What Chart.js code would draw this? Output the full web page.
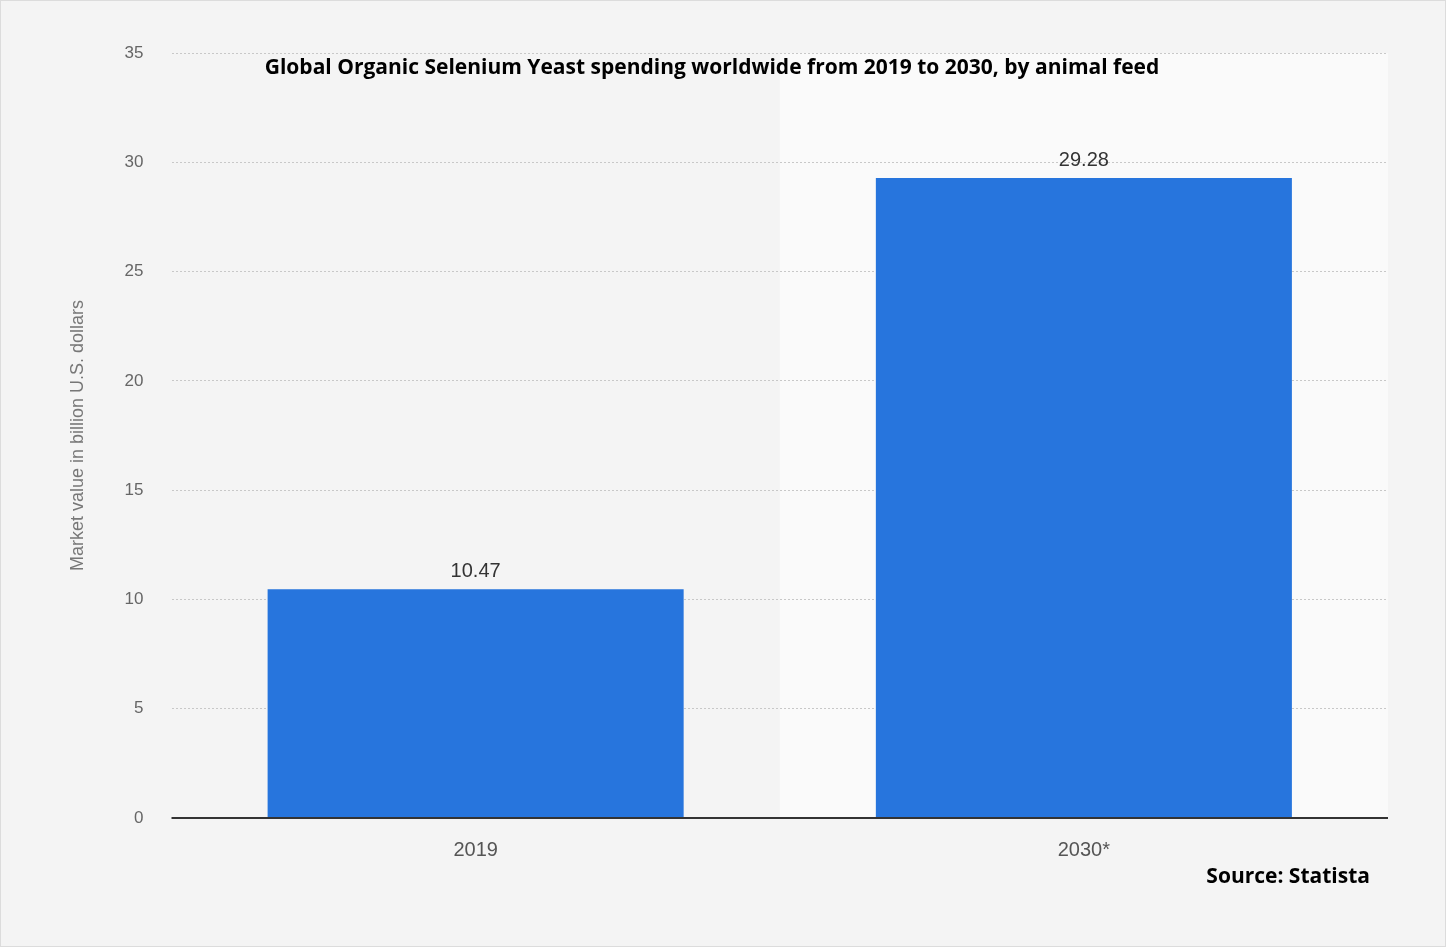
<!DOCTYPE html>
<html><head><meta charset="utf-8">
<script src="https://cdn.jsdelivr.net/npm/chart.js@4.4.1/dist/chart.umd.min.js"></script>
<style>html,body{margin:0;padding:0;background:#f4f4f4}#w{width:1446px;height:947px;box-sizing:border-box;border:1px solid #dcdcdc}</style>
</head><body><div id="w"><canvas id="c"></canvas></div>
<script>
const categories = ["2019", "2030*"];
const values = [10.47, 29.28];
const yTicks = [0, 5, 10, 15, 20, 25, 30, 35];
const titleText = "Global Organic Selenium Yeast spending worldwide from 2019 to 2030, by animal feed";
const sourceText = "Source: Statista";

const deco = {
  id: 'deco',
  beforeDraw(ch) {
    const {ctx, chartArea: a, scales: {x}} = ch;
    const mid = (x.getPixelForValue(0) + x.getPixelForValue(1)) / 2;
    ctx.save();
    ctx.fillStyle = '#f4f4f4'; ctx.fillRect(a.left, a.top, mid - a.left, a.bottom - a.top);
    ctx.fillStyle = '#fafafa'; ctx.fillRect(mid, a.top, a.right - mid, a.bottom - a.top);
    ctx.restore();
  },
  afterDraw(ch) {
    const {ctx, chartArea: a} = ch;
    ctx.save();
    ctx.fillStyle = '#000';
    ctx.font = 'bold 21px "Liberation Sans Narrow", "Open Sans", sans-serif';
    ctx.textAlign = 'center'; ctx.textBaseline = 'middle';
    ctx.fillText(titleText, 711, 67);
    ctx.textAlign = 'right';
    ctx.fillText(sourceText, 1369, 876);
    const meta = ch.getDatasetMeta(0);
    ctx.font = '20px "Liberation Sans", Arial, sans-serif';
    ctx.fillStyle = '#333'; ctx.textAlign = 'center'; ctx.textBaseline = 'bottom';
    meta.data.forEach((b, i) => ctx.fillText(values[i].toFixed(2), b.x, b.y - 8));
    ctx.strokeStyle = '#333'; ctx.lineWidth = 2;
    ctx.beginPath(); ctx.moveTo(a.left, a.bottom); ctx.lineTo(a.right, a.bottom); ctx.stroke();
    ctx.restore();
  }
};

new Chart(document.getElementById('c'), {
  type: 'bar',
  data: { labels: categories, datasets: [{ data: values, backgroundColor: '#2775dd', categoryPercentage: 1, barPercentage: 0.684 }] },
  options: {
    responsive: true, maintainAspectRatio: false, animation: false,
    layout: { padding: { left: 58, right: 57, top: 52, bottom: 72 } },
    plugins: { legend: { display: false }, tooltip: { enabled: false } },
    scales: {
      x: { grid: { display: false }, border: { display: false },
           ticks: { color: '#555', font: { size: 20, family: 'Liberation Sans' }, padding: 12 } },
      y: { min: 0, max: 35, afterBuildTicks: s => { s.ticks = yTicks.map(v => ({ value: v })); },
           grid: { color: '#c8c8c8', lineWidth: 1, drawTicks: false, tickBorderDash: [] },
           border: { display: false, dash: [2, 2] },
           ticks: { color: '#666', font: { size: 17, family: 'Liberation Sans' }, padding: 28 },
           title: { display: true, text: 'Market value in billion U.S. dollars', color: '#777', font: { size: 18, family: 'Liberation Sans' }, padding: 8 } }
    }
  },
  plugins: [deco]
});
</script></body></html>
